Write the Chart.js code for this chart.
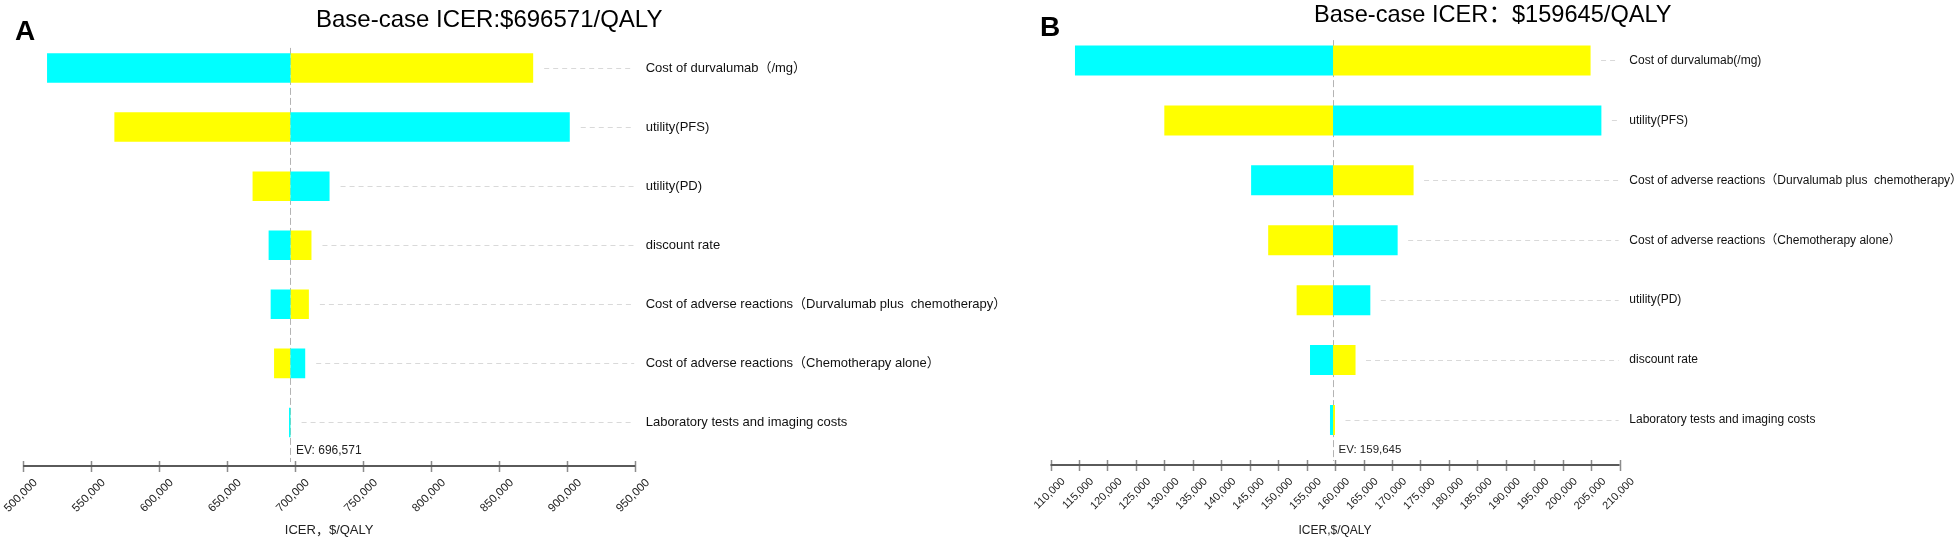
<!DOCTYPE html>
<html><head><meta charset="utf-8">
<script src="https://cdn.jsdelivr.net/npm/chart.js@4"></script>
<style>
html,body{margin:0;padding:0;background:#fff;}
body{width:1958px;height:538px;position:relative;overflow:hidden;font-family:"Liberation Sans",Arial,"Noto Sans CJK SC",sans-serif;}
canvas{position:absolute;top:0;}
.t{position:absolute;white-space:nowrap;line-height:1;color:#000;}
</style></head><body>
<canvas id="cA" width="1040" height="538" style="left:0;width:1040px;height:538px"></canvas>
<canvas id="cB" width="958" height="538" style="left:1000px;width:958px;height:538px"></canvas>
<div class="t" style="left:15px;top:17px;font-size:28px;font-weight:bold;">A</div>
<div class="t" style="left:316px;top:7px;font-size:24px;">Base-case ICER:$696571/QALY</div>
<div class="t" style="left:1040px;top:13px;font-size:28px;font-weight:bold;">B</div>
<div class="t" style="left:1314px;top:2.5px;font-size:23.6px;">Base-case ICER：$159645/QALY</div>
<script>
// ---------- Panel A data ----------
const paramsA = [
  'Cost of durvalumab（/mg）',
  'utility(PFS)',
  'utility(PD)',
  'discount rate',
  'Cost of adverse reactions（Durvalumab plus  chemotherapy）',
  'Cost of adverse reactions（Chemotherapy alone）',
  'Laboratory tests and imaging costs'
];
const evA = 696571;
const cyanA   = [517600, 901900, 725300, 680500, 682000, 707400, 695500];
const yellowA = [875000, 567100, 668700, 712000, 710100, 684500, 696650];
const xTicksA = [500000, 550000, 600000, 650000, 700000, 750000, 800000, 850000, 900000, 950000];
const xTitleA = 'ICER，$/QALY';
const evLabelA = 'EV: 696,571';

// ---------- Panel B data ----------
const paramsB = [
  'Cost of durvalumab(/mg)',
  'utility(PFS)',
  'Cost of adverse reactions（Durvalumab plus  chemotherapy）',
  'Cost of adverse reactions（Chemotherapy alone）',
  'utility(PD)',
  'discount rate',
  'Laboratory tests and imaging costs'
];
const evB = 159645;
const cyanB   = [114300, 206800, 145250, 171000, 166200, 155600, 159110];
const yellowB = [204900, 130000, 173800, 148250, 153250, 163600, 159990];
const xTicksB = [110000, 115000, 120000, 125000, 130000, 135000, 140000, 145000, 150000, 155000,
                 160000, 165000, 170000, 175000, 180000, 185000, 190000, 195000, 200000, 205000, 210000];
const xTitleB = 'ICER,$/QALY';
const evLabelB = 'EV: 159,645';

const FAMILY = '"Liberation Sans", Arial, "Noto Sans CJK SC", sans-serif';

const decor = {
  id: 'decor',
  beforeDatasetsDraw(chart, args, o) {
    const ctx = chart.ctx, xs = chart.scales.x, ys = chart.scales.y;
    ctx.save();
    ctx.strokeStyle = '#b4b4b4'; ctx.lineWidth = 1; ctx.setLineDash([7, 3]);
    const xe = Math.round(xs.getPixelForValue(o.ev)) + 0.5;
    ctx.beginPath(); ctx.moveTo(xe, ys.getPixelForValue(-0.34)); ctx.lineTo(xe, xs.top - 4); ctx.stroke();
    ctx.restore();
  },
  afterDatasetsDraw(chart, args, o) {
    const ctx = chart.ctx, xs = chart.scales.x, ys = chart.scales.y;
    ctx.save();
    ctx.strokeStyle = '#d9d9d9'; ctx.lineWidth = 1; ctx.setLineDash([5, 4]);
    o.cyan.forEach((c, i) => {
      const hi = Math.max(c, o.yellow[i], o.ev);
      const x0 = xs.getPixelForValue(hi) + o.gap;
      const y = Math.round(ys.getPixelForValue(i)) + 0.5;
      ctx.beginPath(); ctx.moveTo(x0, y); ctx.lineTo(xs.right - 1, y); ctx.stroke();
    });
    ctx.setLineDash([]);
    // ticks crossing axis
    ctx.strokeStyle = '#8c8c8c'; ctx.lineWidth = 1.5;
    ctx.beginPath();
    xs.ticks.forEach(t => {
      const x = Math.round(xs.getPixelForValue(t.value)) + 0.5;
      ctx.moveTo(x, xs.top - 5); ctx.lineTo(x, xs.top + 6);
    });
    ctx.stroke();
    // axis line
    ctx.strokeStyle = '#5a5a5a'; ctx.lineWidth = 2;
    ctx.beginPath(); ctx.moveTo(xs.left, xs.top); ctx.lineTo(xs.right, xs.top); ctx.stroke();
    // EV label
    ctx.fillStyle = '#222'; ctx.font = o.evFont + 'px ' + FAMILY;
    ctx.textBaseline = 'middle'; ctx.textAlign = 'left';
    ctx.fillText(o.evLabel, xs.getPixelForValue(o.ev) + 5.5, xs.top - 15);
    ctx.restore();
  }
};

function makeChart(id, c) {
  return new Chart(document.getElementById(id), {
    type: 'bar',
    data: {
      datasets: [
        { label: 'low', data: c.cyan.map((v, i) => ({ y: i, x: [c.ev, v] })),
          backgroundColor: '#00FFFF', borderWidth: 0, grouped: false, barPercentage: 0.5, categoryPercentage: 1 },
        { label: 'high', data: c.yellow.map((v, i) => ({ y: i, x: [c.ev, v] })),
          backgroundColor: '#FFFF00', borderWidth: 0, grouped: false, barPercentage: 0.5, categoryPercentage: 1 }
      ]
    },
    options: {
      indexAxis: 'y', responsive: false, animation: false, devicePixelRatio: 1,
      layout: { padding: { left: c.padLeft, top: c.padTop, right: 0, bottom: 0 } },
      plugins: {
        legend: { display: false }, tooltip: { enabled: false }, title: { display: false },
        decor: { ev: c.ev, cyan: c.cyan, yellow: c.yellow, gap: c.gap, evLabel: c.evLabel, evFont: c.evFont }
      },
      scales: {
        x: {
          type: 'linear', position: 'bottom', offset: false, min: c.xTicks[0], max: c.xTicks[c.xTicks.length - 1],
          afterBuildTicks: s => { s.ticks = c.xTicks.map(v => ({ value: v })); },
          afterFit: s => { s.height = c.xHeight; s.paddingLeft = 0; s.paddingRight = 0; },
          grid: { display: true, drawOnChartArea: false, drawTicks: false, offset: false },
          border: { display: false },
          ticks: { autoSkip: false, maxRotation: 45, minRotation: 45, padding: c.tickPad, labelOffset: c.labelOffset,
                   font: { size: c.tickFont, family: FAMILY }, color: '#222',
                   callback: v => Number(v).toLocaleString('en-US') },
          title: { display: true, text: c.xTitle, font: { size: c.titleFont, family: FAMILY }, color: '#222',
                   padding: { top: 0, bottom: 0 } }
        },
        y: {
          type: 'linear', position: 'right', reverse: true, offset: false, min: -0.5, max: c.yMax,
          afterBuildTicks: s => { s.ticks = c.params.map((_, i) => ({ value: i })); },
          afterFit: s => { s.width = c.yWidth; s.paddingTop = 0; s.paddingBottom = 0; },
          grid: { display: false, drawTicks: false, offset: false }, border: { display: false },
          ticks: { autoSkip: false, padding: c.labelPad, font: { size: c.labelFont, family: FAMILY }, color: '#111',
                   callback: v => c.params[v] }
        }
      }
    },
    plugins: [decor]
  });
}

makeChart('cA', {
  params: paramsA, ev: evA, cyan: cyanA, yellow: yellowA, xTicks: xTicksA, xTitle: xTitleA, evLabel: evLabelA,
  padLeft: 23.1, padTop: 38.46, yMax: 6.737, xHeight: 72, yWidth: 404.8,
  gap: 11, tickPad: 10, labelOffset: 12.5, tickFont: 11.5, titleFont: 13, labelPad: 10.5, labelFont: 13, evFont: 12
});
makeChart('cB', {
  params: paramsB, ev: evB, cyan: cyanB, yellow: yellowB, xTicks: xTicksB, xTitle: xTitleB, evLabel: evLabelB,
  padLeft: 50.5, padTop: 30.54, yMax: 6.7507, xHeight: 73, yWidth: 338.4,
  gap: 10.5, tickPad: 10, labelOffset: 13, tickFont: 11, titleFont: 12, labelPad: 9.7, labelFont: 12, evFont: 11.5
});
</script>
</body></html>
